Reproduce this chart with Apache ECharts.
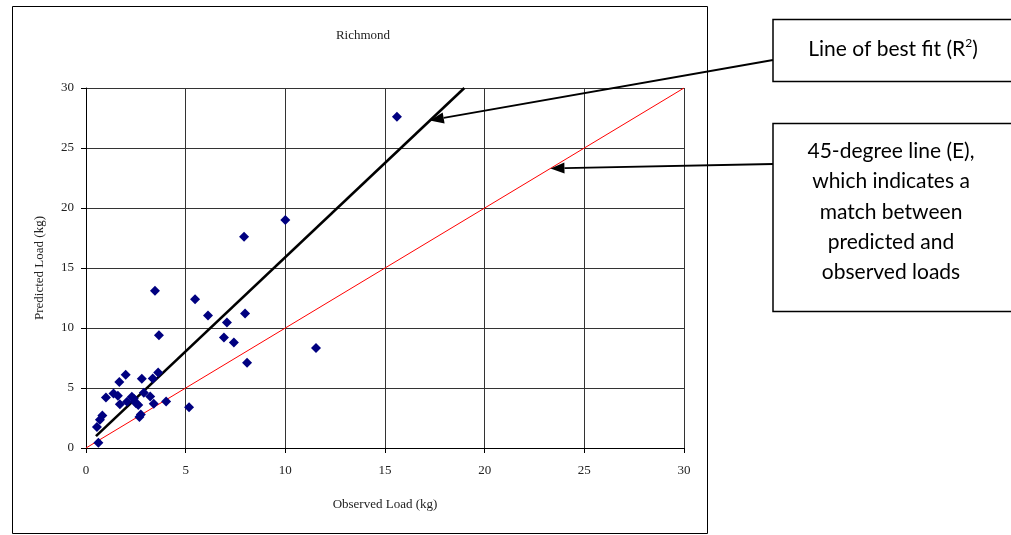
<!DOCTYPE html>
<html>
<head>
<meta charset="utf-8">
<script src="https://cdn.jsdelivr.net/npm/echarts@6/dist/echarts.min.js"></script>
<style>
html,body{margin:0;padding:0;background:#fff;}
#chart{width:1011px;height:535px;}
</style>
</head>
<body>
<div id="chart"></div>
<script>
// ---- data ----
const chartTitle = "Richmond";
const xAxisName = "Observed Load (kg)";
const yAxisName = "Predicted Load (kg)";
const axisTicks = [0, 5, 10, 15, 20, 25, 30];
const observedLoad = [15.6, 10.0, 7.93, 3.46, 5.47, 6.12, 7.98, 7.07, 3.66, 6.92, 7.42, 11.54, 8.08, 5.17, 4.02,
  3.62, 1.99, 2.8, 3.35, 1.67, 1.0, 1.38, 1.6, 1.7, 2.06, 2.3, 2.5, 2.62, 2.9, 3.22, 3.4, 2.68, 2.75, 0.82, 0.7, 0.55, 0.62, 2.4];
const predictedLoad = [27.6, 19.0, 17.6, 13.1, 12.4, 11.05, 11.2, 10.45, 9.4, 9.2, 8.8, 8.33, 7.1, 3.4, 3.88,
  6.3, 6.1, 5.78, 5.8, 5.5, 4.2, 4.55, 4.35, 3.65, 3.85, 4.28, 3.75, 3.58, 4.6, 4.3, 3.68, 2.58, 2.8, 2.7, 2.35, 1.75, 0.44, 4.1];
const fitLineX = [0.5, 18.98];
const fitLineY = [0.99, 30];
const equalLineX = [0, 30];
const equalLineY = [0, 30];
// annotation targets (data coords where arrows point)
const fitArrowTarget = [17.25, 27.3];
const equalArrowTarget = [23.3, 23.3];
const fitBoxText = "Line of best fit (R{sup|2})";
const equalBoxLines = ["45-degree line (E),", "which indicates a", "match between", "predicted and", "observed loads"];

const scatterData = observedLoad.map((x, i) => [x, predictedLoad[i]]);
const fitData = fitLineX.map((x, i) => [x, fitLineY[i]]);
const equalData = equalLineX.map((x, i) => [x, equalLineY[i]]);

const serif = "'Liberation Serif', 'DejaVu Serif', serif";
const sans = "Lato, 'Open Sans', 'Noto Sans', sans-serif";

const chart = echarts.init(document.getElementById('chart'), null, {renderer: 'canvas'});

const axisCommon = {
  type: 'value', min: axisTicks[0], max: axisTicks[axisTicks.length - 1], interval: 5,
  axisLine: {show: true, onZero: false, lineStyle: {color: '#000', width: 1}},
  axisTick: {show: true, length: 5, lineStyle: {color: '#000'}},
  splitLine: {show: true, lineStyle: {color: '#333', width: 1}},
  nameTextStyle: {fontFamily: serif, fontSize: 13, color: '#222'},
  nameLocation: 'middle'
};

chart.setOption({
  animation: false,
  backgroundColor: '#fff',
  title: {text: chartTitle, left: 358, top: 24, textAlign: 'center',
    textStyle: {fontFamily: serif, fontSize: 13, fontWeight: 'normal', color: '#222'}},
  grid: {left: 86, top: 88, width: 598, height: 360, show: false},
  xAxis: Object.assign({}, axisCommon, {
    name: xAxisName, nameGap: 50,
    axisLabel: {fontFamily: serif, fontSize: 13, color: '#222', margin: 16}
  }),
  yAxis: Object.assign({}, axisCommon, {
    name: yAxisName, nameGap: 40,
    axisLabel: {fontFamily: serif, fontSize: 13, color: '#222', margin: 12}
  }),
  series: [
    {type: 'line', data: equalData, symbol: 'none', lineStyle: {color: '#ff0000', width: 1}, z: 2},
    {type: 'line', data: fitData, symbol: 'none', lineStyle: {color: '#000', width: 2.6}, z: 3},
    {type: 'scatter', data: scatterData, symbol: 'diamond', symbolSize: 10,
      itemStyle: {color: '#000080', opacity: 1}, z: 4}
  ]
});

function arrow(x1, y1, x2, y2) {
  const ang = Math.atan2(y2 - y1, x2 - x1);
  const L = 14, W = 5.5;
  const bx = x2 - L * Math.cos(ang), by = y2 - L * Math.sin(ang);
  const px = -Math.sin(ang), py = Math.cos(ang);
  return [
    {type: 'line', shape: {x1: x1, y1: y1, x2: bx, y2: by}, style: {stroke: '#000', lineWidth: 1.8}, z: 100},
    {type: 'polygon', shape: {points: [[x2, y2], [bx + px * W, by + py * W], [bx - px * W, by - py * W]]},
      style: {fill: '#000'}, z: 100}
  ];
}

const p1 = chart.convertToPixel({gridIndex: 0}, fitArrowTarget);
const p2 = chart.convertToPixel({gridIndex: 0}, equalArrowTarget);

const graphics = [
  {type: 'rect', shape: {x: 12.5, y: 6.5, width: 695, height: 527}, style: {fill: 'none', stroke: '#000', lineWidth: 1}, z: -10, silent: true},
  {type: 'rect', shape: {x: 773, y: 19.5, width: 245, height: 62}, style: {fill: '#fff', stroke: '#000', lineWidth: 1.5}, z: 90},
  {type: 'text', x: 893, y: 49, style: {text: fitBoxText, fontFamily: sans, fontSize: 21, fill: '#000', align: 'center', verticalAlign: 'middle',
    rich: {sup: {fontSize: 12, fontFamily: sans, verticalAlign: 'top', padding: [0, 0, 12, 0]}}}, z: 95},
  {type: 'rect', shape: {x: 773, y: 123.5, width: 245, height: 188}, style: {fill: '#fff', stroke: '#000', lineWidth: 1.5}, z: 90},
  {type: 'text', x: 891, y: 212, style: {text: equalBoxLines.join('\n'), fontFamily: sans, fontSize: 21, lineHeight: 30.3, fill: '#000', align: 'center', verticalAlign: 'middle'}, z: 95}
].concat(arrow(773, 60, p1[0], p1[1])).concat(arrow(773, 164, p2[0], p2[1]));

chart.setOption({graphic: graphics});
</script>
</body>
</html>
